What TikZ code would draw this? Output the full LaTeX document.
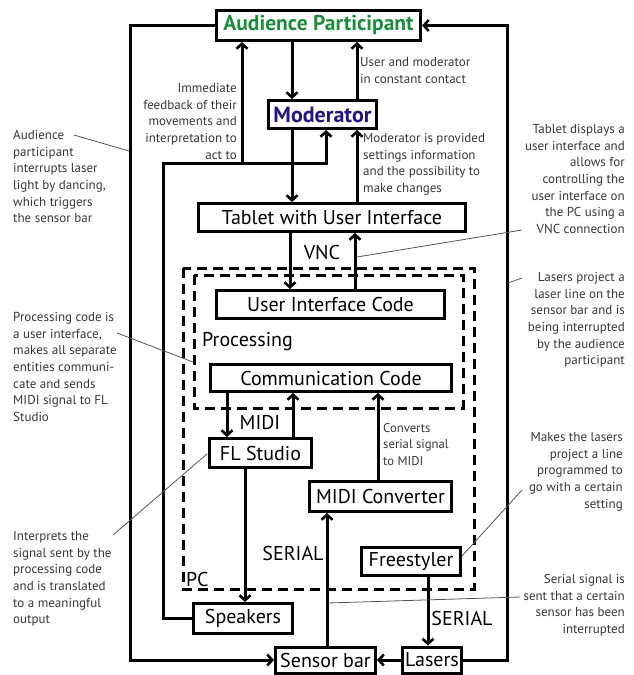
\documentclass[tikz,border=0pt]{standalone}
\usepackage{fontspec}
\setmainfont{PT Sans}
\usetikzlibrary{arrows.meta}
\definecolor{audgreen}{RGB}{28,140,62}
\definecolor{modblue}{RGB}{32,22,130}
\definecolor{anntext}{RGB}{55,55,55}
\definecolor{annline}{RGB}{85,85,85}
\tikzset{
  box/.style={draw, line width=3pt, inner sep=0pt, font=\fontsize{20}{22}\selectfont},
  arr/.style={line width=3pt, -{Straight Barb[length=5pt,width=11pt,line width=2.6pt]}},
  dsh/.style={line width=3pt, dash pattern=on 10pt off 6pt},
  lab/.style={inner sep=0pt, font=\fontsize{20}{22}\selectfont},
  ann/.style={inner sep=0pt, font=\fontsize{13}{16.7}\selectfont, text=anntext},
  small/.style={inner sep=0pt, font=\fontsize{12.7}{16.5}\selectfont, text=anntext, align=left},
  lead/.style={draw=annline, line width=0.8pt}
}
\begin{document}
\begin{tikzpicture}[x=1pt,y=-1pt]
\useasboundingbox (0,0) rectangle (634,675);
% boxes
\node[box, minimum width=204, minimum height=30, text=audgreen, font=\fontsize{21.5}{23}\selectfont\bfseries] (aud) at (318.5,25.5) {Audience Participant};
\node[box, minimum width=108, minimum height=28, text=modblue, font=\fontsize{22}{24}\selectfont\bfseries] (mod) at (322.5,114.5) {Moderator};
\node[box, minimum width=267, minimum height=28] (tab) at (332,217.5) {Tablet with User Interface};
\node[box, minimum width=228, minimum height=28] (uic) at (330.5,304.5) {User Interface Code};
\node[box, minimum width=241, minimum height=27] (comm) at (331,378) {Communication Code};
\node[box, minimum width=102, minimum height=29] (fl) at (260.5,453) {FL Studio};
\node[box, minimum width=142, minimum height=30] (midi) at (380.5,496.5) {MIDI Converter};
\node[box, minimum width=99, minimum height=28] (free) at (411,561.5) {Freestyler};
\node[box, minimum width=99, minimum height=30] (spk) at (243,618.5) {Speakers};
\node[box, minimum width=100, minimum height=26] (sens) at (325.5,660) {Sensor bar};
\node[box, minimum width=59, minimum height=26] (las) at (432,660) {Lasers};
% dashed containers
\draw[dsh] (183,268) rectangle (474,589);
\draw[dsh] (194,275) rectangle (463,408);
% helper coordinates
\coordinate (xA) at (292,0);
\coordinate (xB) at (357,0);
\coordinate (xC) at (290,0);
\coordinate (xD) at (355,0);
\coordinate (xE) at (326,0);
\coordinate (xF) at (242,0);
\coordinate (xG) at (227,0);
\coordinate (xH) at (293,0);
\coordinate (xI) at (378,0);
\coordinate (xJ) at (327,0);
\coordinate (xK) at (245,0);
\coordinate (xL) at (428,0);
\coordinate (oL) at (130,400);
\coordinate (oR) at (507,400);
\coordinate (fbk) at (163,163);
% connectors
\draw[arr] (aud.south -| xA) -- (mod.north -| xA);
\draw[arr] (mod.north -| xB) -- (aud.south -| xB);
\draw[arr] (mod.south -| xA) -- (tab.north -| xA);
\draw[arr] (tab.north -| xB) -- (mod.south -| xB);
\draw[arr] (tab.south -| xC) -- (uic.north -| xC);
\draw[arr] (uic.north -| xD) -- (tab.south -| xD);
\draw[arr] (comm.south -| xG) -- (fl.north -| xG);
\draw[arr] (fl.north -| xH) -- (comm.south -| xH);
\draw[arr] (midi.north -| xI) -- (comm.south -| xI);
\draw[arr] (sens.north -| xJ) -- (midi.south -| xJ);
\draw[arr] (fl.south -| xK) -- (spk.north -| xK);
\draw[arr] (free.south -| xL) -- (las.north -| xL);
\draw[arr] (las.west) -- (sens.east);
\draw[arr] (aud.west) -| (oL) |- (sens.west);
\draw[arr] (las.east) -| (oR) |- (aud.east);
\draw[arr] (spk.west) -| (fbk) -| (mod.south -| xE);
\draw[arr] (fbk -| xF) -- (aud.south -| xF);
% labels
\node[ann, anchor=north west, align=left] (t1) at (360,57) {User and moderator\\in constant contact};
\node[ann, anchor=north west, align=left] (t2) at (363,133) {Moderator is provided\\settings information\\and the possibility to\\make changes};
\node[ann, anchor=north east, align=right] (t3) at (237,83) {Immediate\\feedback of their\\movements and\\interpretation to\\act to};
\node[lab, anchor=center] (vnc) at (322,252) {VNC};
\node[lab, anchor=west] (proc) at (202,342) {Processing};
\node[lab, anchor=center] (midil) at (260,423) {MIDI};
\node[small, anchor=north west] (conv) at (383,423) {Converts\\serial signal\\to MIDI};
\node[lab, anchor=center] (ser1) at (293,553) {SERIAL};
\node[lab, anchor=west] (pcl) at (186,579) {PC};
\node[lab, anchor=center] (ser2) at (462,618) {SERIAL};
% annotations
\node[ann, anchor=north west, align=left] (a1) at (13,130) {Audience\\participant\\interrupts laser\\light by dancing,\\which triggers\\the sensor bar};
\node[ann, anchor=north west, align=left] (a2) at (13,312) {Processing code is\\a user interface,\\makes all separate\\entities communi-\\cate and sends\\MIDI signal to FL\\Studio};
\node[ann, anchor=north west, align=left] (a3) at (13,531) {Interprets the\\signal sent by the\\processing code\\and is translated\\to a meaningful\\output};
\node[ann, anchor=north east, align=right] (a4) at (625,124) {Tablet displays a\\user interface and\\allows for\\controlling the\\user interface on\\the PC using a\\VNC connection};
\node[ann, anchor=north east, align=right] (a5) at (625,272) {Lasers project a\\laser line on the\\sensor bar and is\\being interrupted\\by the audience\\participant};
\node[ann, anchor=north east, align=right] (a6) at (623,432) {Makes the lasers\\project a line\\programmed to\\go with a certain\\setting};
\node[ann, anchor=north east, align=right] (a7) at (625,574) {Serial signal is\\sent that a certain\\sensor has been\\interrupted};
% leader lines
\coordinate (l1a) at (74,135); \coordinate (l1b) at (129,151);
\coordinate (l2a) at (117,333); \coordinate (l2b) at (193,362);
\coordinate (l3a) at (113,535); \coordinate (l3b) at (207,454);
\coordinate (l4a) at (522,230); \coordinate (l4b) at (357,257);
\coordinate (l5a) at (522,278); \coordinate (l5b) at (508,283);
\coordinate (l6a) at (522,490); \coordinate (l6b) at (462,556);
\coordinate (l7a) at (520,597); \coordinate (l7b) at (328,603);
\draw[lead] (l1a) -- (l1b);
\draw[lead] (l2a) -- (l2b);
\draw[lead] (l3a) -- (l3b);
\draw[lead] (l4a) -- (l4b);
\draw[lead] (l5a) -- (l5b);
\draw[lead] (l6a) -- (l6b);
\draw[lead] (l7a) -- (l7b);
\end{tikzpicture}
\end{document}
